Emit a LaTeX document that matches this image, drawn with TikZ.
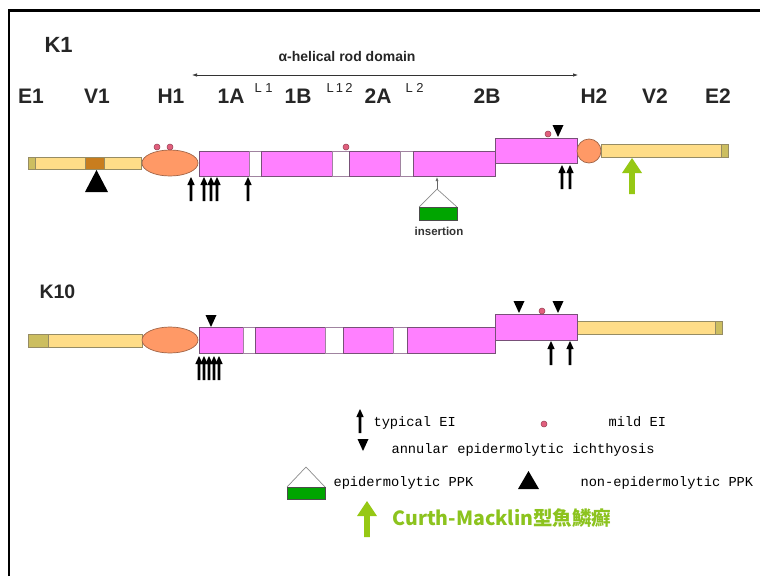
\documentclass[tikz,border=0pt]{standalone}
\usepackage{fontspec}
\setmainfont{Liberation Sans}
\newfontfamily\legfont{Liberation Mono}
\newfontfamily\cjkfont{Noto Sans CJK JP}
\usetikzlibrary{arrows.meta}
\definecolor{barY}{RGB}{255,221,136}
\definecolor{barLine}{RGB}{150,140,100}
\definecolor{olive}{RGB}{204,190,96}
\definecolor{brownseg}{RGB}{200,125,30}
\definecolor{orangeH}{RGB}{255,153,102}
\definecolor{orangeLine}{RGB}{160,100,70}
\definecolor{rodpink}{RGB}{255,128,255}
\definecolor{rodLine}{RGB}{120,80,120}
\definecolor{dotpink}{RGB}{225,95,125}
\definecolor{dotLine}{RGB}{150,60,80}
\definecolor{insGreen}{RGB}{0,165,0}
\definecolor{lime}{RGB}{150,200,20}
\definecolor{cmGreen}{RGB}{140,195,30}
\tikzset{
  ybar/.style={fill=barY,draw=barLine,line width=0.7pt},
  obar/.style={fill=olive,draw=barLine,line width=0.7pt},
  bseg/.style={fill=brownseg,draw=barLine,line width=0.7pt},
  head/.style={fill=orangeH,draw=orangeLine,line width=0.7pt},
  rod/.style={fill=rodpink,draw=rodLine,line width=0.7pt},
  gapbox/.style={fill=white,draw=rodLine!70,line width=0.7pt},
  pdot/.style={fill=dotpink,draw=dotLine,line width=0.5pt},
  gbox/.style={fill=insGreen,draw=black!70,line width=0.7pt},
  lbl/.style={font=\bfseries\fontsize{21}{21}\selectfont,text=black!85,anchor=base},
  sup/.style={font=\fontsize{13}{13}\selectfont,text=black!85,anchor=base west},
  leg/.style={font=\legfont\fontsize{13.7}{13.7}\selectfont,anchor=base west},
  uparrow/.pic={\fill[black] (-1.3,0) -- (-1.3,-16) -- (-3.7,-16) -- (0,-24) -- (3.7,-16) -- (1.3,-16) -- (1.3,0) -- cycle;},
  greenarrow/.pic={\fill[lime] (-2.8,0) -- (-2.8,-21) -- (-10,-21) -- (0,-36) -- (10,-21) -- (2.8,-21) -- (2.8,0) -- cycle;},
  downtri/.pic={\fill[black] (-5.5,-12) -- (5.5,-12) -- (0,0) -- cycle;},
  housesym/.pic={\draw[black!45,line width=0.7pt] (-19,0) -- (0,-20) -- (19,0);}
}
\begin{document}
\begin{tikzpicture}[x=1pt,y=-1pt]
\useasboundingbox (0,0) rectangle (760,576);
\fill[white] (0,0) rectangle (760,576);
% frame
\draw[line width=2.2pt] (9,576) -- (9,10.5) -- (760,10.5);

% ---------------- K1 ----------------
\node[font=\bfseries\fontsize{22}{22}\selectfont,text=black!85,anchor=base west] (k1) at (41,52) {K1};
\node[font=\bfseries\fontsize{14}{14}\selectfont,text=black!85,anchor=base] (alpha) at (347,61) {α-helical rod domain};
\coordinate (al) at (192,75);
\coordinate (ar) at (578,75);
\draw[{Latex[length=5pt,width=3.5pt]}-{Latex[length=5pt,width=3.5pt]},line width=0.7pt,black!80] (al) -- (ar);

\node[lbl] (e1) at (31,103) {E1};
\node[lbl] (v1) at (97,103) {V1};
\node[lbl] (h1) at (171,103) {H1};
\node[lbl] (d1a) at (231,103) {1A};
\node[sup] (l1) at (251,92) {L 1};
\node[lbl] (d1b) at (298,103) {1B};
\node[sup] (l12) at (323,92) {L\,1\,2};
\node[lbl] (d2a) at (378,103) {2A};
\node[sup] (l2) at (402,92) {L 2};
\node[lbl] (d2b) at (487,103) {2B};
\node[lbl] (h2) at (594,103) {H2};
\node[lbl] (v2) at (655,103) {V2};
\node[lbl] (e2) at (718,103) {E2};

% head domain bars
\draw[ybar] (35,157) rectangle (141,169);
\draw[obar] (28,157) rectangle (35,169);
\draw[bseg] (85,157) rectangle (104,169);
\fill[black] (85,192) -- (108,192) -- (96.5,170) -- cycle;
\draw[head] (170,163) ellipse (28 and 13);
% rod
\draw[rod] (199,151) rectangle (249,176);
\draw[gapbox] (249,151) rectangle (261,176);
\draw[rod] (261,151) rectangle (332,176);
\draw[gapbox] (332,151) rectangle (349,176);
\draw[rod] (349,151) rectangle (400,176);
\draw[gapbox] (400,151) rectangle (413,176);
\draw[rod] (413,151) rectangle (495,176);
\draw[rod] (495,138) rectangle (577,163);
\draw[head] (589,151) circle (12);
\draw[ybar] (601,144) rectangle (728,157);
\draw[obar] (721,144) rectangle (728,157);
% dots
\draw[pdot] (157,147) circle (3);
\draw[pdot] (170,147) circle (3);
\draw[pdot] (346,147) circle (3);
\draw[pdot] (548,134) circle (3);
\pic at (558,137) {downtri};
% arrows
\foreach \xx in {191,204,211,217,248} {\pic at (\xx,201) {uparrow};}
\foreach \xx in {562,570} {\pic at (\xx,189) {uparrow};}
\pic at (632,194) {greenarrow};
% insertion
\coordinate (insTop) at (437,177);
\coordinate (insApex) at (437,189);
\draw[-{Latex[length=4pt,width=3pt]},black!60,line width=0.6pt] (insApex) -- (insTop);
\draw[black!45,line width=0.7pt] (419,207) -- (insApex) -- (457,207);
\draw[gbox] (419,207) rectangle (457,220);
\node[font=\bfseries\fontsize{11.5}{11.5}\selectfont,text=black!80,anchor=base] (ins) at (439,235) {insertion};

% ---------------- K10 ----------------
\node[font=\bfseries\fontsize{19.5}{19.5}\selectfont,text=black!85,anchor=base west] (k10) at (36,298) {K10};
\draw[ybar] (48,334) rectangle (142,347);
\draw[obar] (28,334) rectangle (48,347);
\draw[head] (170,340) ellipse (28 and 13);
\draw[rod] (199,327) rectangle (243,353);
\draw[gapbox] (243,327) rectangle (255,353);
\draw[rod] (255,327) rectangle (325,353);
\draw[gapbox] (325,327) rectangle (343,353);
\draw[rod] (343,327) rectangle (393,353);
\draw[gapbox] (393,327) rectangle (407,353);
\draw[rod] (407,327) rectangle (495,353);
\draw[ybar] (577,321) rectangle (722,334);
\draw[obar] (715,321) rectangle (722,334);
\draw[rod] (495,314) rectangle (577,340);
\pic at (211,327) {downtri};
\pic at (519,313) {downtri};
\pic at (558,313) {downtri};
\draw[pdot] (542,311) circle (3);
\foreach \xx in {199,204,209,214,219} {\pic at (\xx,380) {uparrow};}
\foreach \xx in {551,570} {\pic at (\xx,365) {uparrow};}

% ---------------- legend ----------------
\pic at (360,433) {uparrow};
\node[leg] (lg1) at (370,426) {typical EI};
\draw[pdot] (544,424) circle (3);
\node[leg] (lg2) at (605,426) {mild EI};
\pic at (363,451) {downtri};
\node[leg] (lg3) at (388,453) {annular epidermolytic ichthyosis};
\pic at (306,487) {housesym};
\draw[gbox] (287,487) rectangle (325,499);
\node[leg] (lg4) at (330,486) {epidermolytic PPK};
\fill[black] (518,489) -- (539,489) -- (528.5,471) -- cycle;
\node[leg] (lg5) at (577,486) {non-epidermolytic PPK};
\pic at (367,537) {greenarrow};
\node[font=\cjkfont\bfseries\fontsize{19.5}{19.5}\selectfont,text=cmGreen,anchor=base west] (lg6) at (389,525) {Curth-Macklin型魚鱗癬};
\end{tikzpicture}
\end{document}
